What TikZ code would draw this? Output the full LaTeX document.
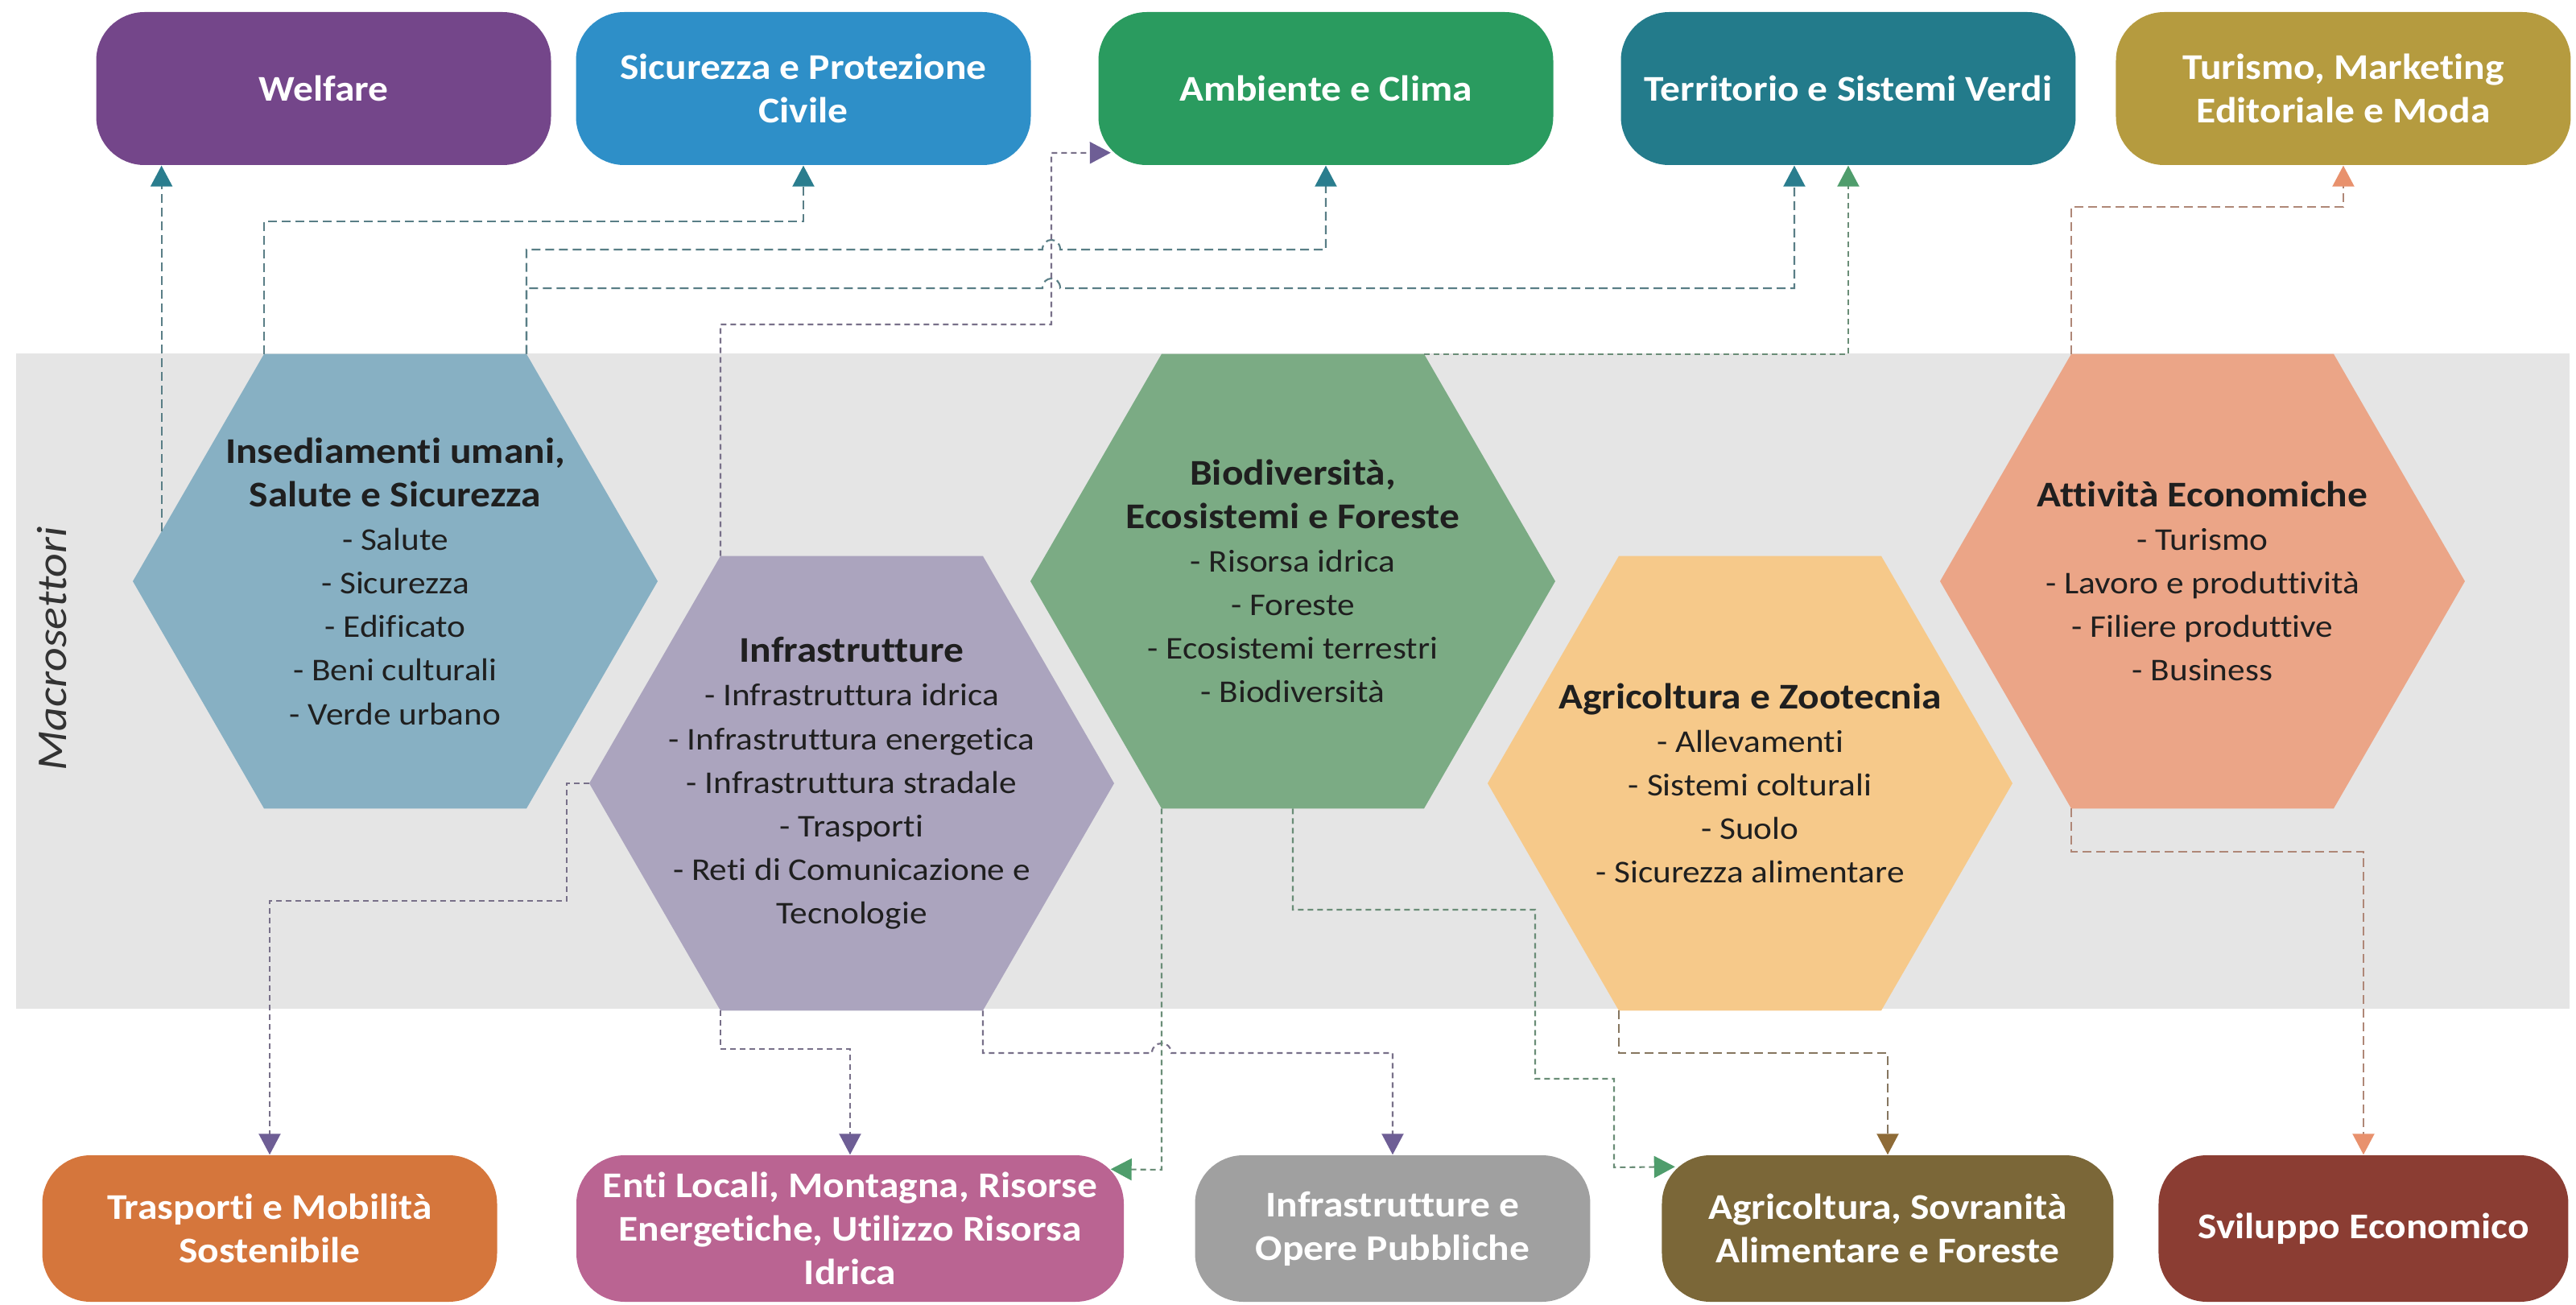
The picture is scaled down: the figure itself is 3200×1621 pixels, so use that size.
\documentclass[tikz,border=0pt]{standalone}
\usepackage{fontspec}
\setmainfont{Carlito}[FakeStretch=1.1, Ligatures=NoCommon]
\usetikzlibrary{positioning,shapes.geometric,arrows.meta,calc}

\definecolor{cWel}{HTML}{74468A}
\definecolor{cSic}{HTML}{2E8FC8}
\definecolor{cAmb}{HTML}{2A9B5F}
\definecolor{cTer}{HTML}{237B8B}
\definecolor{cTur}{HTML}{B59B3F}
\definecolor{cTra}{HTML}{D5763C}
\definecolor{cEnt}{HTML}{BA6492}
\definecolor{cIop}{HTML}{A0A0A0}
\definecolor{cAgs}{HTML}{7B6738}
\definecolor{cSvi}{HTML}{8B3D33}
\definecolor{hxIns}{HTML}{87B0C3}
\definecolor{hxInf}{HTML}{ABA4BE}
\definecolor{hxBio}{HTML}{7BAB84}
\definecolor{hxAgr}{HTML}{F6C98A}
\definecolor{hxAtt}{HTML}{EBA587}
\definecolor{cBand}{HTML}{E5E5E5}
\definecolor{arIns}{HTML}{2A7D8E}
\definecolor{arInf}{HTML}{6E5E95}
\definecolor{arBio}{HTML}{4F9D6C}
\definecolor{arAgr}{HTML}{8E6B37}
\definecolor{arAtt}{HTML}{E8916D}

\newcommand{\sectorhead}[1]{{\fontsize{12.8}{15.4}\selectfont\bfseries #1}}

\begin{document}
\begin{tikzpicture}[%
    x=0.1mm, y=-0.1mm,
    on grid,
    box/.style={rounded corners=6mm, minimum width=56.5mm, minimum height=19mm,
      inner sep=0pt, align=center, text=white,
      font=\fontsize{12.8}{15.4}\selectfont\bfseries},
    hexa/.style={regular polygon, regular polygon sides=6, minimum size=65.2mm,
      inner sep=0pt, outer sep=0pt},
    hextext/.style={align=center, text=black!88,
      font=\fontsize{11.2}{15.4}\selectfont},
    conn/.style={line width=0.6pt, draw=#1!45!gray, dash pattern=on 1.1mm off 0.6mm,
      -{Triangle[width=2.7mm, length=2.6mm, color=#1, fill=#1]}},
    dotlk/.style={dash pattern=on 0.7mm off 0.5mm}
  ]
    \useasboundingbox (0,0) rectangle (3200,1621);
    \fill[cBand] (20,439) rectangle (3192,1253);
    \node[rotate=90, text=black!80, font=\fontsize{15}{18}\selectfont\itshape]
      (macro) at (65,806) {Macrosettori};

    \node[hexa, fill=hxIns] (ins) at (491,722) {};
    \node[hexa, fill=hxInf] (inf) [below right=25.1mm and 56.7mm of ins] {};
    \node[hexa, fill=hxBio] (bio) [above right=25.1mm and 54.8mm of inf] {};
    \node[hexa, fill=hxAgr] (agr) [below right=25.1mm and 56.8mm of bio] {};
    \node[hexa, fill=hxAtt] (att) [above right=25.1mm and 56.2mm of agr] {};

    \node[hextext] (insT) at (ins) {\sectorhead{Insediamenti umani,}\\
      \sectorhead{Salute e Sicurezza}\\- Salute\\- Sicurezza\\- Edificato\\
      - Beni culturali\\- Verde urbano};
    \node[hextext] (infT) at (inf) {\sectorhead{Infrastrutture}\\
      - Infrastruttura idrica\\- Infrastruttura energetica\\
      - Infrastruttura stradale\\- Trasporti\\- Reti di Comunicazione e\\Tecnologie};
    \node[hextext] (bioT) at (bio) {\sectorhead{Biodiversità,}\\
      \sectorhead{Ecosistemi e Foreste}\\- Risorsa idrica\\- Foreste\\
      - Ecosistemi terrestri\\- Biodiversità};
    \node[hextext] (agrT) at (agr) {\sectorhead{Agricoltura e Zootecnia}\\
      - Allevamenti\\- Sistemi colturali\\- Suolo\\- Sicurezza alimentare};
    \node[hextext] (attT) at (att) {\sectorhead{Attività Economiche}\\
      - Turismo\\- Lavoro e produttività\\- Filiere produttive\\- Business};

    \node[box, fill=cWel] (wel) at (402,110) {Welfare};
    \node[box, fill=cSic] (sic) [right=59.6mm of wel] {Sicurezza e Protezione\\Civile};
    \node[box, fill=cAmb] (amb) [right=64.9mm of sic] {Ambiente e Clima};
    \node[box, fill=cTer] (ter) [right=64.9mm of amb] {Territorio e Sistemi Verdi};
    \node[box, fill=cTur] (tur) [right=61.5mm of ter] {Turismo, Marketing\\Editoriale e Moda};

    \node[box, fill=cTra, minimum height=18.2mm] (tra) at (335,1526)
      {Trasporti e Mobilità\\Sostenibile};
    \node[box, fill=cEnt, minimum height=18.2mm, minimum width=68mm] (ent)
      [right=72.1mm of tra] {Enti Locali, Montagna, Risorse\\Energetiche, Utilizzo Risorsa\\Idrica};
    \node[box, fill=cIop, minimum height=18.2mm, minimum width=49.1mm] (iop)
      [right=67.4mm of ent] {Infrastrutture e\\Opere Pubbliche};
    \node[box, fill=cAgs, minimum height=18.2mm, minimum width=56.1mm] (ags)
      [right=61.5mm of iop] {Agricoltura, Sovranità\\Alimentare e Foreste};
    \node[box, fill=cSvi, minimum height=18.2mm, minimum width=50.9mm] (svi)
      [right=59.1mm of ags] {Sviluppo Economico};

    \draw[conn=arIns] (ins.168) -- (ins.168 |- wel.south);
    \draw[conn=arIns] (ins.120) -- (ins.120 |- 0,275) -| (sic.south);
    \draw[conn=arIns] (ins.60) -- (ins.60 |- 0,310) -- (1295,310)
      .. controls (1295,294) and (1317,294) .. (1317,310) -| (amb.south);
    \draw[conn=arIns] (ins.60) -- (ins.60 |- 0,358) -- (1295,358)
      .. controls (1295,342) and (1317,342) .. (1317,358) -| ([xshift=-6.7mm]ter.south);

    \draw[conn=arInf, dotlk] (inf.120) -- (inf.120 |- 0,403) -- (1306,403) -- (1306,190)
      -- ($(amb.south west)+(16,-16)$);
    \draw[conn=arInf, dotlk] (inf.180) -- ++(-28,0) |- (tra.north |- 0,1119) -- (tra.north);
    \draw[conn=arInf, dotlk] (inf.240) -- (inf.240 |- 0,1303) -| (ent.north);
    \draw[conn=arInf, dotlk] (inf.300) -- (inf.300 |- 0,1308) -- (1431,1308)
      .. controls (1431,1292) and (1455,1292) .. (1455,1308) -| (iop.north);

    \draw[conn=arBio, dotlk] (bio.60) -- (bio.60 -| ter.south) -- (ter.south);
    \draw[conn=arBio, dotlk] (bio.240) -- (bio.240 |- 0,1453)
      -- ($(ent.north east)+(-17,18)$);
    \draw[conn=arBio, dotlk] (bio.south) -- (bio.south |- 0,1130) -- (1907,1130)
      -- (1907,1340) -- (2005,1340) -- (2005,1450) -- ($(ags.north west)+(17,15)$);

    \draw[conn=arAgr] (agr.240) -- (agr.240 |- 0,1308) -| (ags.north);

    \draw[conn=arAtt] (att.120) -- (att.120 |- 0,257) -| (tur.south);
    \draw[conn=arAtt] (att.240) -- (att.240 |- 0,1058) -| (svi.north);
\end{tikzpicture}
\end{document}
